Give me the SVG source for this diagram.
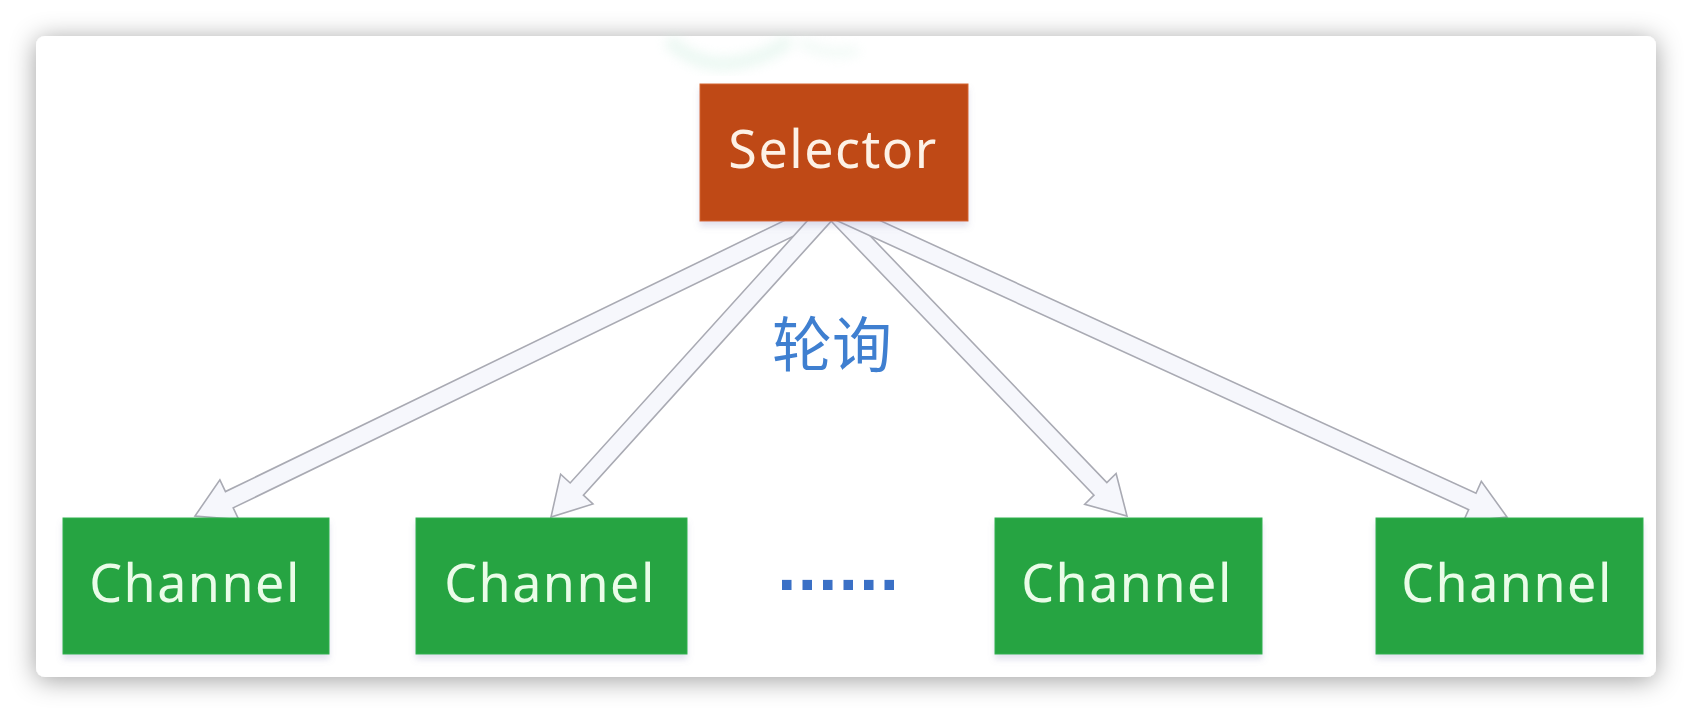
<svg xmlns="http://www.w3.org/2000/svg" width="1692" height="714" viewBox="0 0 1692 714">
  <defs>
    <filter id="cardShadow" x="-10%" y="-20%" width="120%" height="140%">
      <feDropShadow dx="0" dy="3" stdDeviation="13" flood-color="#000" flood-opacity="0.38"/>
    </filter>
    <filter id="boxShadow" x="-10%" y="-10%" width="120%" height="130%">
      <feDropShadow dx="0" dy="5" stdDeviation="3" flood-color="#7a7ab0" flood-opacity="0.22"/>
    </filter>
    <filter id="soft" x="-20%" y="-50%" width="140%" height="200%">
      <feGaussianBlur stdDeviation="6"/>
    </filter>
    <style>
      .arrow { fill: #f6f7fc; stroke: #a9aab3; stroke-width: 1.6; stroke-linejoin: miter; }
      .channel rect { fill: #28a443; stroke: #2fb24c; stroke-width: 1; }
      .label { font-family: "Noto Sans", "Open Sans", sans-serif; font-size: 52px; letter-spacing: 1.5px; text-anchor: middle; }
      .channel text { fill: #eafce8; }
    </style>
  </defs>

  <rect width="1692" height="714" fill="#ffffff"/>
  <rect x="36" y="36" width="1620" height="641" rx="9" ry="9" fill="#ffffff" filter="url(#cardShadow)"/>

  <g id="watermark" opacity="0.4" filter="url(#soft)">
    <path d="M668 40 Q700 70 740 62 Q770 56 790 40" fill="none" stroke="#cfeee0" stroke-width="14"/>
    <path d="M800 42 Q830 58 858 50" fill="none" stroke="#dff3ea" stroke-width="10"/>
  </g>

  <g id="connectors">
    <polygon class="arrow" points="834.86,216.13 233.19,507.83 238.77,519.57 195,516 219.89,479.83 225.47,491.57 827.14,199.87"/>
    <polygon class="arrow" points="837.61,214.11 583.40,495.20 592.95,504.02 551,517 560.63,474.16 570.18,482.98 824.39,201.89"/>
    <polygon class="arrow" points="824.57,214.30 1093.97,495.16 1084.69,504.26 1127,516 1116.11,473.46 1106.83,482.56 837.43,201.70"/>
    <polygon class="arrow" points="827.32,216.21 1468.64,509.67 1463.32,521.54 1507,517 1481.32,481.38 1476.00,493.25 834.68,199.79"/>
  </g>

  <g id="selector" filter="url(#boxShadow)">
    <rect x="700" y="84" width="268" height="137" fill="#bf4913" stroke="#d4672e" stroke-width="1"/>
    <text class="label" x="833" y="168" fill="#fdf1e6">Selector</text>
  </g>

  <g id="channel1" class="channel" filter="url(#boxShadow)">
    <rect x="63" y="518" width="266" height="136"/>
    <text class="label" x="195" y="602">Channel</text>
  </g>
  <g id="channel2" class="channel" filter="url(#boxShadow)">
    <rect x="416" y="518" width="271" height="136"/>
    <text class="label" x="550" y="602">Channel</text>
  </g>
  <g id="channel3" class="channel" filter="url(#boxShadow)">
    <rect x="995" y="518" width="267" height="136"/>
    <text class="label" x="1127" y="602">Channel</text>
  </g>
  <g id="channel4" class="channel" filter="url(#boxShadow)">
    <rect x="1376" y="518" width="267" height="136"/>
    <text class="label" x="1507" y="602">Channel</text>
  </g>

  <g id="polling-label">
    <text x="832" y="367" font-family="Noto Sans CJK SC, sans-serif" font-size="60" fill="#3f7fd0" text-anchor="middle">轮询</text>
  </g>

  <g id="ellipsis">
    <text x="838" y="590" font-family="DejaVu Sans, sans-serif" font-size="54" font-weight="bold" fill="#3a70c6" text-anchor="middle">......</text>
  </g>
</svg>
